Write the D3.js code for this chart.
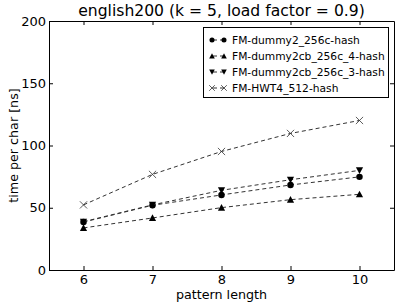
<!DOCTYPE html>
<html>
<head>
<meta charset="utf-8">
<script src="https://cdn.jsdelivr.net/npm/d3@7"></script>
<style>
  body { margin: 0; background: #fff; }
  text { font-family: "DejaVu Sans", sans-serif; }
</style>
</head>
<body>
<script>
const panel_width = 407;
const panel_height = 305;

// data
const patternLengths = [6, 7, 8, 9, 10];
const seriesNames = ["FM-dummy2_256c-hash", "FM-dummy2cb_256c_4-hash", "FM-dummy2cb_256c_3-hash", "FM-HWT4_512-hash"];
const dummy2 = [38.5, 52, 60.3, 68.3, 74.8];
const dummy2cb4 = [33.8, 41.8, 50.1, 56.5, 60.8];
const dummy2cb3 = [38.8, 52.3, 64, 72.5, 80];
const hwt4 = [52.3, 76.8, 95.2, 109.7, 120.1];
const yTicks = [0, 50, 100, 150, 200];
const markerKinds = ["circle", "up", "down", "x"];

const allSeries = [dummy2, dummy2cb4, dummy2cb3, hwt4];

const margin = {left: 49, right: 13, top: 21, bottom: 35};
const w = panel_width - margin.left - margin.right;
const h = panel_height - margin.top - margin.bottom;

const svg = d3.select("body").append("svg")
    .attr("width", panel_width)
    .attr("height", panel_height);

const x = d3.scaleLinear().domain([5.5, 10.5]).range([margin.left, margin.left + w]);
const y = d3.scaleLinear().domain([0, 200]).range([margin.top + h, margin.top]);

function drawMarker(g, kind, cx, cy, sz) {
    const r = sz || 3.6;
    if (kind === "circle") {
        g.append("circle").attr("cx", cx).attr("cy", cy).attr("r", r * 0.9).attr("fill", "black");
    } else if (kind === "up") {
        g.append("path")
            .attr("d", `M${cx},${cy - r}L${cx + r},${cy + r * 0.85}L${cx - r},${cy + r * 0.85}Z`)
            .attr("fill", "black");
    } else if (kind === "down") {
        g.append("path")
            .attr("d", `M${cx},${cy + r}L${cx + r},${cy - r * 0.85}L${cx - r},${cy - r * 0.85}Z`)
            .attr("fill", "black");
    } else {
        g.append("path")
            .attr("d", `M${cx - r},${cy - r}L${cx + r},${cy + r}M${cx - r},${cy + r}L${cx + r},${cy - r}`)
            .attr("stroke", "#333").attr("stroke-width", 0.8).attr("fill", "none");
    }
}

// series lines
const line = d3.line().x((d, i) => x(patternLengths[i])).y(d => y(d));
allSeries.forEach((vals, s) => {
    svg.append("path")
        .attr("d", line(vals))
        .attr("fill", "none")
        .attr("stroke", "#333")
        .attr("stroke-width", 1)
        .attr("stroke-dasharray", "4,3");
    const g = svg.append("g");
    vals.forEach((v, i) => drawMarker(g, markerKinds[s], x(patternLengths[i]), y(v)));
});

// axes, ticks inward on all four sides
const xAxisB = d3.axisBottom(x).tickValues(patternLengths).tickFormat(d3.format("d"))
    .tickSizeInner(-4).tickSizeOuter(0).tickPadding(4.5);
const xAxisT = d3.axisTop(x).tickValues(patternLengths).tickSizeInner(-4).tickSizeOuter(0).tickFormat("");
const yAxisL = d3.axisLeft(y).tickValues(yTicks).tickSizeInner(-4).tickSizeOuter(0).tickPadding(3);
const yAxisR = d3.axisRight(y).tickValues(yTicks).tickSizeInner(-4).tickSizeOuter(0).tickFormat("");

const gxb = svg.append("g").attr("transform", `translate(0,${margin.top + h})`).call(xAxisB);
const gxt = svg.append("g").attr("transform", `translate(0,${margin.top})`).call(xAxisT);
const gyl = svg.append("g").attr("transform", `translate(${margin.left},0)`).call(yAxisL);
const gyr = svg.append("g").attr("transform", `translate(${margin.left + w},0)`).call(yAxisR);

[gxb, gxt, gyl, gyr].forEach(g => {
    g.selectAll("text").attr("font-size", 13).attr("fill", "black")
        .attr("font-family", "DejaVu Sans, sans-serif");
    g.select(".domain").attr("stroke", "black").attr("stroke-width", 1);
    g.selectAll(".tick line").attr("stroke", "black");
});

// title and axis labels
svg.append("text")
    .attr("x", margin.left + w / 2)
    .attr("y", 16)
    .attr("text-anchor", "middle")
    .attr("font-size", 15.6)
    .text("english200 (k = 5, load factor = 0.9)");

svg.append("text")
    .attr("x", margin.left + w / 2)
    .attr("y", 299)
    .attr("text-anchor", "middle")
    .attr("font-size", 12.7)
    .text("pattern length");

svg.append("text")
    .attr("transform", `translate(18,${margin.top + h / 2}) rotate(-90)`)
    .attr("text-anchor", "middle")
    .attr("font-size", 12.7)
    .text("time per char [ns]");

// legend
const legend = svg.append("g");
legend.append("rect")
    .attr("x", 203.5).attr("y", 27.5)
    .attr("width", 185).attr("height", 70)
    .attr("fill", "white").attr("stroke", "black").attr("stroke-width", 1);

seriesNames.forEach((name, i) => {
    const ly = 40 + i * 16;
    legend.append("line")
        .attr("x1", 213).attr("x2", 224).attr("y1", ly).attr("y2", ly)
        .attr("stroke", "#333").attr("stroke-dasharray", "4,3");
    drawMarker(legend, markerKinds[i], 212, ly, 2.8);
    drawMarker(legend, markerKinds[i], 224, ly, 2.8);
    legend.append("text")
        .attr("x", 232).attr("y", ly)
        .attr("dominant-baseline", "central")
        .attr("font-size", 10.7)
        .text(name);
});
</script>
</body>
</html>
